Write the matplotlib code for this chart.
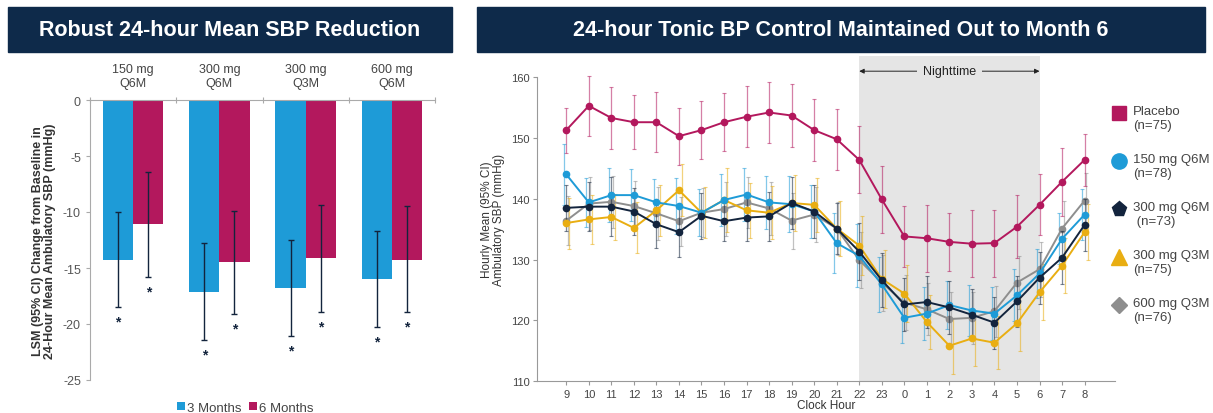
import numpy as np
import matplotlib.pyplot as plt
from matplotlib.patches import Rectangle

plt.rcParams['font.family'] = ['Liberation Sans', 'DejaVu Sans']
plt.rcParams['axes.unicode_minus'] = False

# ---- left panel data ----
doses = ["150 mg\nQ6M", "300 mg\nQ6M", "300 mg\nQ3M", "600 mg\nQ6M"]
m3_mean = [-14.3, -17.1, -16.8, -16.0]
m3_lo = [-18.5, -21.4, -21.1, -20.3]
m3_hi = [-10.0, -12.8, -12.5, -11.7]
m6_mean = [-11.1, -14.5, -14.1, -14.3]
m6_lo = [-15.8, -19.1, -18.9, -18.9]
m6_hi = [-6.4, -9.9, -9.4, -9.5]

# ---- right panel data ----
hours = ["9", "10", "11", "12", "13", "14", "15", "16", "17", "18", "19", "20",
         "21", "22", "23", "0", "1", "2", "3", "4", "5", "6", "7", "8"]
placebo = [151.3, 155.3, 153.3, 152.6, 152.6, 150.3, 151.3, 152.6, 153.5, 154.2,
           153.7, 151.3, 149.8, 146.4, 139.9, 133.8, 133.5, 132.9, 132.6, 132.7,
           135.4, 139.0, 142.8, 146.4]
placebo_ci = [3.7, 4.9, 5.1, 4.4, 4.9, 4.7, 4.8, 4.8, 5.0, 5.1, 5.2, 5.1,
              5.0, 5.5, 5.5, 5.0, 5.5, 4.8, 5.5, 5.5, 5.2, 5.0, 5.6, 4.3]
q6m150 = [144.0, 139.4, 140.6, 140.6, 139.4, 138.8, 137.7, 139.8, 140.7, 139.4,
          139.1, 137.9, 132.7, 130.6, 125.9, 120.4, 121.1, 122.5, 121.6, 121.1,
          124.1, 127.7, 133.4, 137.4]
q6m150_ci = [5.0, 4.0, 4.5, 4.3, 3.8, 4.6, 3.9, 4.3, 4.4, 4.4, 4.6, 4.3,
             5.0, 5.2, 4.5, 4.2, 4.3, 4.0, 4.2, 4.4, 4.3, 4.1, 4.2, 4.2]
q6m300 = [138.5, 138.7, 138.7, 137.9, 135.8, 134.5, 137.2, 136.3, 136.9, 137.1,
          139.3, 137.9, 135.1, 131.3, 126.6, 122.6, 123.0, 122.1, 120.9, 119.6,
          123.1, 127.0, 130.3, 135.7]
q6m300_ci = [3.8, 4.0, 4.8, 3.8, 3.9, 4.1, 3.8, 3.2, 3.8, 4.0, 4.2, 4.3,
             4.2, 4.7, 4.5, 4.3, 4.3, 4.3, 4.2, 4.3, 4.2, 4.3, 4.4, 4.3]
q3m300 = [136.0, 136.6, 137.0, 135.2, 138.1, 141.4, 137.7, 139.8, 138.1, 137.7,
          139.3, 139.0, 135.1, 132.3, 126.8, 124.4, 119.7, 115.8, 117.0, 116.3,
          119.5, 124.6, 129.0, 134.5]
q3m300_ci = [4.2, 4.0, 3.8, 4.2, 4.2, 4.3, 4.2, 5.2, 4.5, 4.4, 4.6, 4.4,
             4.6, 4.8, 4.8, 4.7, 4.4, 4.6, 4.5, 4.4, 4.5, 4.6, 4.5, 4.6]
q3m600 = [136.4, 139.2, 139.5, 138.8, 137.6, 136.3, 137.7, 138.3, 139.4, 138.4,
          136.4, 137.4, 135.1, 129.9, 126.2, 122.9, 121.8, 120.2, 120.4, 121.5,
          126.2, 128.4, 135.1, 139.7]
q3m600_ci = [4.0, 4.3, 4.3, 4.1, 4.4, 4.0, 4.0, 4.4, 4.2, 4.3, 4.6, 4.5,
             4.4, 4.6, 4.6, 4.5, 4.3, 4.4, 4.3, 4.2, 4.4, 4.5, 4.6, 4.6]

series_names = ["Placebo\n(n=75)", "150 mg Q6M\n(n=78)", "300 mg Q6M\n (n=73)",
                "300 mg Q3M\n(n=75)", "600 mg Q3M\n(n=76)"]

navy = "#0e2a4a"
blue = "#1e9bd7"
magenta = "#b3185d"
gold = "#e9ae12"
gray = "#8e8e8e"
dark = "#13243d"

fig = plt.figure(figsize=(12.13, 4.14), dpi=100)
W, H = 1213, 414


def banner(x0, x1, text):
    fig.patches.append(Rectangle((x0 / W, 1 - 53 / H), (x1 - x0) / W, 45 / H,
                                 transform=fig.transFigure, color=navy, zorder=0))
    fig.text((x0 + x1) / 2 / W, 1 - 31 / H, text, color="white", fontsize=15.5,
             fontweight="bold", ha="center", va="center")


banner(8, 452, "Robust 24-hour Mean SBP Reduction")
banner(477, 1205, "24-hour Tonic BP Control Maintained Out to Month 6")

# ---------------- left bar chart ----------------
axL = fig.add_axes([90 / W, 1 - 381 / H, 345 / W, 280 / H])
x = np.arange(len(doses))
bw = 0.35
m3 = np.array(m3_mean)
m6 = np.array(m6_mean)
axL.bar(x - bw / 2, m3, bw, color=blue, label="3 Months", zorder=2)
axL.bar(x + bw / 2, m6, bw, color=magenta, label="6 Months", zorder=2)
axL.errorbar(x - bw / 2, m3, yerr=[m3 - np.array(m3_lo), np.array(m3_hi) - m3],
             fmt="none", ecolor=dark, elinewidth=1, capsize=2, capthick=1, zorder=3)
axL.errorbar(x + bw / 2, m6, yerr=[m6 - np.array(m6_lo), np.array(m6_hi) - m6],
             fmt="none", ecolor=dark, elinewidth=1, capsize=2, capthick=1, zorder=3)
for xi, lo in zip(x - bw / 2, m3_lo):
    axL.text(xi, lo - 1.3, "*", ha="center", va="center", fontsize=10,
             fontweight="bold", color=dark)
for xi, lo in zip(x + bw / 2, m6_lo):
    axL.text(xi, lo - 1.3, "*", ha="center", va="center", fontsize=10,
             fontweight="bold", color=dark)

axL.set_xlim(-0.5, len(doses) - 0.5)
axL.set_ylim(-25, 0)
axL.set_yticks(np.arange(0, -26, -5))
axL.tick_params(axis="y", labelsize=9, colors="#555555", length=3)
axL.tick_params(axis="y", color="#aaaaaa")
axL.xaxis.tick_top()
axL.set_xticks(np.arange(len(doses) + 1) - 0.5)
axL.set_xticklabels([])
axL.tick_params(axis="x", direction="inout", length=4, color="#aaaaaa")
for s in ["right", "bottom"]:
    axL.spines[s].set_visible(False)
for s in ["left", "top"]:
    axL.spines[s].set_color("#aaaaaa")
for xi, d in zip(x, doses):
    axL.text(xi, 1.0, d, ha="center", va="bottom", fontsize=9, color="#444444",
             linespacing=1.15)
axL.set_ylabel("LSM (95% CI) Change from Baseline in\n24-Hour Mean Ambulatory SBP (mmHg)",
               fontsize=9, fontweight="bold", color="#333333", labelpad=5,
               linespacing=1.0)
axL.legend(loc="upper center", bbox_to_anchor=(0.45, -0.035), ncol=2, frameon=False,
           fontsize=9.5, handlelength=0.6, handleheight=0.6, handletextpad=0.15,
           columnspacing=0.6, labelcolor="#444444")

# ---------------- right line chart ----------------
axR = fig.add_axes([537 / W, 1 - 382 / H, 578 / W, 325 / H])
hx = np.arange(len(hours))
axR.axvspan(13, 21, color="#e5e5e5", zorder=0, lw=0)

data = [placebo, q6m150, q6m300, q3m300, q3m600]
cis = [placebo_ci, q6m150_ci, q6m300_ci, q3m300_ci, q3m600_ci]
colors = [magenta, blue, dark, gold, gray]
leg_markers = ["s", "o", "p", "^", "D"]
leg_sizes = [10, 11, 11, 11, 8]
offsets = [0.0, -0.12, 0.0, 0.14, 0.07]
orders = [5, 7, 8, 6, 4]
for y, ci, c, off, zo in zip(data, cis, colors, offsets, orders):
    axR.errorbar(hx + off, y, yerr=ci, fmt="none", ecolor=c, elinewidth=0.9,
                 capsize=1.5, capthick=0.8, alpha=0.55, zorder=zo - 3)
    axR.plot(hx, y, color=c, lw=1.4, marker="o", ms=4.5, zorder=zo)

axR.set_xlim(-1.3, 24.35)
axR.set_ylim(110, 163.5)
axR.set_yticks(np.arange(110, 161, 10))
axR.set_xticks(hx)
axR.set_xticklabels(hours)
axR.tick_params(labelsize=8, colors="#444444", length=3, pad=2.5)
axR.tick_params(axis="both", color="#999999")
axR.spines["left"].set_bounds(110, 160)
for s in ["right", "top"]:
    axR.spines[s].set_visible(False)
for s in ["left", "bottom"]:
    axR.spines[s].set_color("#999999")
axR.set_ylabel("Hourly Mean (95% CI)\nAmbulatory SBP (mmHg)", fontsize=8.5,
               color="#333333", labelpad=4, linespacing=1.0)
axR.set_xlabel("Clock Hour", fontsize=8.5, color="#333333", labelpad=0.5)

axR.annotate("", xy=(13, 161), xytext=(21, 161),
             arrowprops=dict(arrowstyle="<|-|>", color="#222222", lw=0.7,
                             mutation_scale=7, shrinkA=0, shrinkB=0))
axR.text(17, 161, "Nighttime", ha="center", va="center", fontsize=9, color="#222222",
         bbox=dict(boxstyle="square,pad=0.5", fc="#e5e5e5", ec="none"))

# legend drawn in pixel coordinates on an overlay axes
lg = fig.add_axes([1100 / W, 0, 113 / W, 1])
lg.set_xlim(0, 113)
lg.set_ylim(414, 0)
lg.axis("off")
for i, (name, m, c, ms) in enumerate(zip(series_names, leg_markers, colors, leg_sizes)):
    yy = 114 + 48 * i
    lg.plot([19], [yy], ls="none", marker=m, color=c, ms=ms, clip_on=False)
    lg.text(33, yy - 8, name, ha="left", va="top", fontsize=9.5, color="#444444",
            linespacing=1.2, clip_on=False)

fig.savefig("out.png", dpi=100)
